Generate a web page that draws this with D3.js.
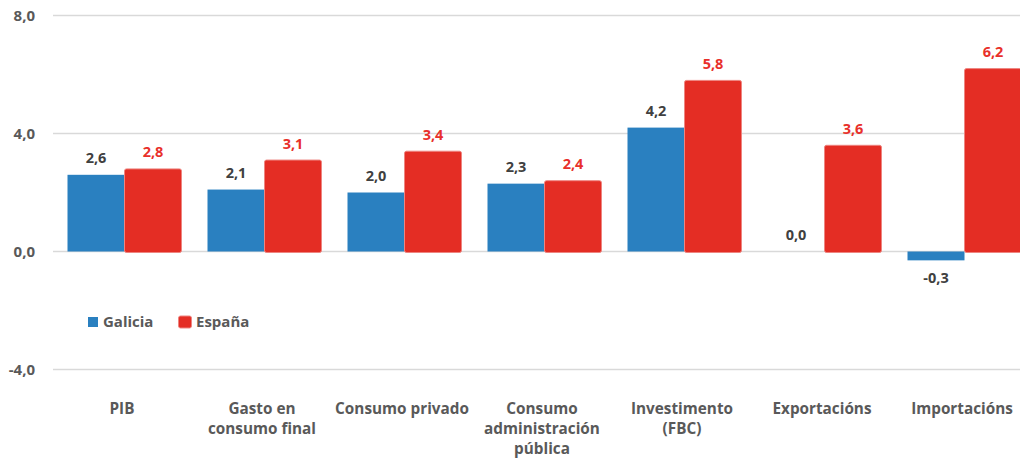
<!DOCTYPE html>
<html>
<head>
<meta charset="utf-8">
<script src="https://cdn.jsdelivr.net/npm/d3@7"></script>
<style>
  body { margin: 0; background: #fff; }
  text { font-family: "Open Sans", sans-serif; font-weight: 700; }
</style>
</head>
<body>
<div id="container"></div>
<script>
/* DATA */
const categories = [
  ["PIB"],
  ["Gasto en", "consumo final"],
  ["Consumo privado"],
  ["Consumo", "administración", "pública"],
  ["Investimento", "(FBC)"],
  ["Exportacións"],
  ["Importacións"]
];
const series = ["Galicia", "España"];
const galicia = [2.6, 2.1, 2.0, 2.3, 4.2, 0.0, -0.3];
const espana = [2.8, 3.1, 3.4, 2.4, 5.8, 3.6, 6.2];
const yTicks = [-4, 0, 4, 8];

/* CONSTANTS */
const width = 1020,
  height = 460;
const colors = { "Galicia": "#2A80C0", "España": "#E42D24" };
const labelColors = { "Galicia": "#404040", "España": "#E8302A" };
const fmt = v => d3.format(".1f")(v).replace(".", ",").replace("−", "-");

const svg = d3.select("#container")
  .append("svg")
  .attr("width", width)
  .attr("height", height);

/* SCALES */
const yScale = d3.scaleLinear()
  .domain([-4, 8])
  .range([369.5, 15.5]);

const x0 = d3.scaleBand()
  .domain(d3.range(categories.length))
  .range([52, 1032]);

const x1 = d3.scaleBand()
  .domain(series)
  .range([15.5, 129.5]);

// grid lines
svg.selectAll(".grid")
  .data(yTicks)
  .join("line")
  .attr("class", "grid")
  .attr("x1", 53)
  .attr("x2", width)
  .attr("y1", d => yScale(d))
  .attr("y2", d => yScale(d))
  .attr("stroke", "#d9d9d9")
  .attr("stroke-width", 1.5);

// y tick labels
svg.selectAll(".ytick")
  .data(yTicks)
  .join("text")
  .attr("class", "ytick")
  .attr("x", 35)
  .attr("y", d => yScale(d) + 5.5)
  .attr("text-anchor", "end")
  .attr("font-size", 15)
  .attr("fill", "#595959")
  .text(fmt);

/* BARS */
const rows = categories.map((c, i) => ({ i, Galicia: galicia[i], "España": espana[i] }));

const groups = svg.selectAll(".group")
  .data(rows)
  .join("g")
  .attr("class", "group")
  .attr("transform", d => `translate(${x0(d.i)},0)`);

groups.selectAll("rect")
  .data(d => series.map(s => ({ s, v: d[s] })))
  .join("rect")
  .attr("x", d => x1(d.s))
  .attr("width", x1.bandwidth())
  .attr("y", d => yScale(Math.max(0, d.v)))
  .attr("height", d => Math.abs(yScale(d.v) - yScale(0)) + (d.s === "España" ? 1 : 0))
  .attr("rx", d => d.s === "España" ? 2 : 0)
  .attr("fill", d => colors[d.s])
  .attr("stroke", d => d.s === "España" ? "#EE8580" : "none")
  .attr("stroke-width", 1);

groups.selectAll(".val")
  .data(d => series.map(s => ({ s, v: d[s] })))
  .join("text")
  .attr("class", "val")
  .attr("x", d => x1(d.s) + x1.bandwidth() / 2)
  .attr("y", d => d.v < 0 ? yScale(d.v) + 22.5 : yScale(d.v) - 11.5)
  .attr("text-anchor", "middle")
  .attr("font-size", 14.5)
  .attr("fill", d => labelColors[d.s])
  .text(d => fmt(d.v));

/* CATEGORY LABELS */
svg.selectAll(".cat")
  .data(categories)
  .join("text")
  .attr("class", "cat")
  .attr("x", (d, i) => x0(i) + 70)
  .attr("y", 413.5)
  .attr("text-anchor", "middle")
  .attr("font-size", 15.3)
  .attr("fill", "#595959")
  .selectAll("tspan")
  .data(d => d)
  .join("tspan")
  .attr("x", function () { return d3.select(this.parentNode).attr("x"); })
  .attr("dy", (d, j) => j === 0 ? 0 : 20)
  .text(d => d);

/* LEGEND */
const legend = svg.append("g").attr("class", "legend");
legend.append("rect")
  .attr("x", 88).attr("y", 317).attr("width", 10).attr("height", 10)
  .attr("fill", colors["Galicia"]);
legend.append("text")
  .attr("x", 103).attr("y", 327)
  .attr("font-size", 15).attr("fill", "#595959")
  .text("Galicia");
legend.append("rect")
  .attr("x", 178.5).attr("y", 316).attr("width", 13).attr("height", 12).attr("rx", 2)
  .attr("fill", colors["España"]).attr("stroke", "#EE8580");
legend.append("text")
  .attr("x", 196).attr("y", 327)
  .attr("font-size", 15).attr("fill", "#595959")
  .text("España");
</script>
</body>
</html>
